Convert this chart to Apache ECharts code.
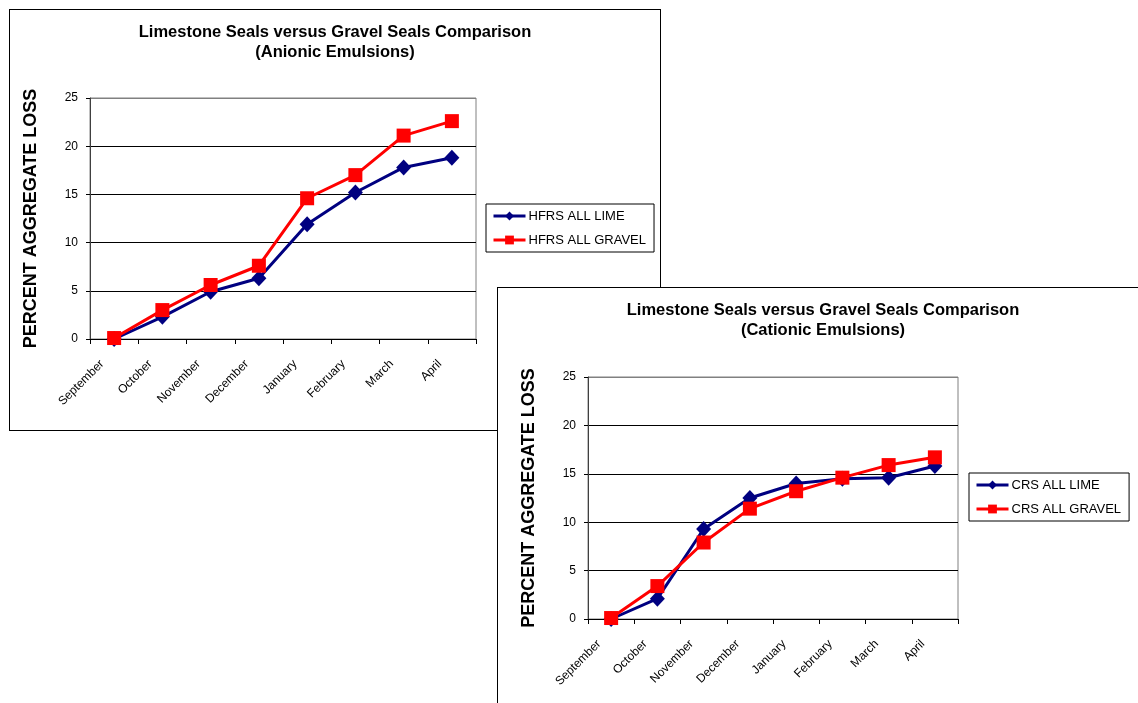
<!DOCTYPE html>
<html>
<head>
<meta charset="utf-8">
<script src="https://cdn.jsdelivr.net/npm/echarts@6/dist/echarts.min.js"></script>
<style>
html,body{margin:0;padding:0;background:#fff;width:1138px;height:703px;overflow:hidden;position:relative;}
.frame{position:absolute;box-sizing:border-box;border:1px solid #000;background:#fff;}
#c1{left:9px;top:9px;width:652px;height:422px;}
#c2{left:497px;top:287px;width:652px;height:422px;}
</style>
</head>
<body>
<div id="c1" class="frame"></div>
<div id="c2" class="frame"></div>
<script>
var months = ['September','October','November','December','January','February','March','April'];
var yTicks = [0,5,10,15,20,25];

var title1 = 'Limestone Seals versus Gravel Seals Comparison\n(Anionic Emulsions)';
var hfrsLimeName = 'HFRS ALL LIME';
var hfrsGravelName = 'HFRS ALL GRAVEL';
var hfrsLime = [0, 2.3, 4.9, 6.3, 11.9, 15.2, 17.8, 18.8];
var hfrsGravel = [0.1, 3.0, 5.6, 7.6, 14.6, 17.0, 21.1, 22.6];

var title2 = 'Limestone Seals versus Gravel Seals Comparison\n(Cationic Emulsions)';
var crsLimeName = 'CRS ALL LIME';
var crsGravelName = 'CRS ALL GRAVEL';
var crsLime = [0, 2.1, 9.3, 12.5, 14.0, 14.5, 14.6, 15.8];
var crsGravel = [0.1, 3.4, 7.9, 11.4, 13.2, 14.6, 15.9, 16.7];

var yName = 'PERCENT AGGREGATE LOSS';
var FONT = '"Liberation Sans", Arial, sans-serif';

function buildOption(cfg) {
  return {
    animation: false,
    backgroundColor: '#fff',
    textStyle: {fontFamily: FONT},
    title: {
      text: cfg.title,
      left: 'center',
      top: 12,
      padding: 0,
      textStyle: {fontFamily: FONT, fontSize: 16.5, fontWeight: 'bold', color: '#000', lineHeight: 20}
    },
    legend: {
      orient: 'vertical',
      left: cfg.legendLeft,
      top: cfg.legendTop,
      padding: [4, 8, 4, 6],
      itemGap: 8,
      itemWidth: 32,
      itemHeight: 11,
      borderColor: '#000',
      borderWidth: 1,
      lineStyle: {width: 3},
      textStyle: {fontFamily: FONT, fontSize: 13, color: '#000', lineHeight: 16, padding: [0,0,0,-2]},
      data: [cfg.names[0], cfg.names[1]]
    },
    grid: {
      left: cfg.grid[0], top: cfg.grid[1], width: cfg.grid[2], height: cfg.grid[3],
      show: true, borderColor: '#808080', borderWidth: 1, backgroundColor: 'transparent',
      containLabel: false
    },
    xAxis: {
      type: 'category',
      data: months,
      boundaryGap: true,
      axisLine: {show: true, lineStyle: {color: '#000', width: 1}},
      axisTick: {show: true, length: 5, inside: false, lineStyle: {color: '#000'}},
      axisLabel: {rotate: 45, fontSize: 12, color: '#000', fontFamily: FONT, margin: 11, interval: 0, padding: [0, 17, 0, 0]},
      splitLine: {show: false}
    },
    yAxis: {
      type: 'value',
      min: yTicks[0],
      max: yTicks[yTicks.length - 1],
      interval: yTicks[1] - yTicks[0],
      name: yName,
      nameLocation: 'middle',
      nameGap: 50,
      nameRotate: 90,
      nameTextStyle: {fontFamily: FONT, fontSize: 18, fontWeight: 'bold', color: '#000'},
      axisLine: {show: true, lineStyle: {color: '#404040', width: 1}},
      axisTick: {show: true, length: 4, inside: false, lineStyle: {color: '#000'}},
      axisLabel: {fontSize: 12, color: '#000', fontFamily: FONT, margin: 12},
      splitLine: {show: true, lineStyle: {color: ['#000','#000','#000','#000','#000','#808080'], width: 1}}
    },
    series: [
      {
        name: cfg.names[0], type: 'line', data: cfg.data[0],
        symbol: 'diamond', symbolSize: [15, 16],
        lineStyle: {color: '#000080', width: 3},
        itemStyle: {color: '#000080'},
        z: 2
      },
      {
        name: cfg.names[1], type: 'line', data: cfg.data[1],
        symbol: 'rect', symbolSize: 14,
        lineStyle: {color: '#FF0000', width: 3},
        itemStyle: {color: '#FF0000'},
        z: 3
      }
    ]
  };
}

var ch1 = echarts.init(document.getElementById('c1'), null, {renderer: 'canvas'});
ch1.setOption(buildOption({
  title: title1,
  names: [hfrsLimeName, hfrsGravelName],
  data: [hfrsLime, hfrsGravel],
  grid: [80, 88, 386, 241],
  legendLeft: 476, legendTop: 194
}));

var ch2 = echarts.init(document.getElementById('c2'), null, {renderer: 'canvas'});
ch2.setOption(buildOption({
  title: title2,
  names: [crsLimeName, crsGravelName],
  data: [crsLime, crsGravel],
  grid: [90, 89, 370, 242],
  legendLeft: 471, legendTop: 185
}));
</script>
</body>
</html>
